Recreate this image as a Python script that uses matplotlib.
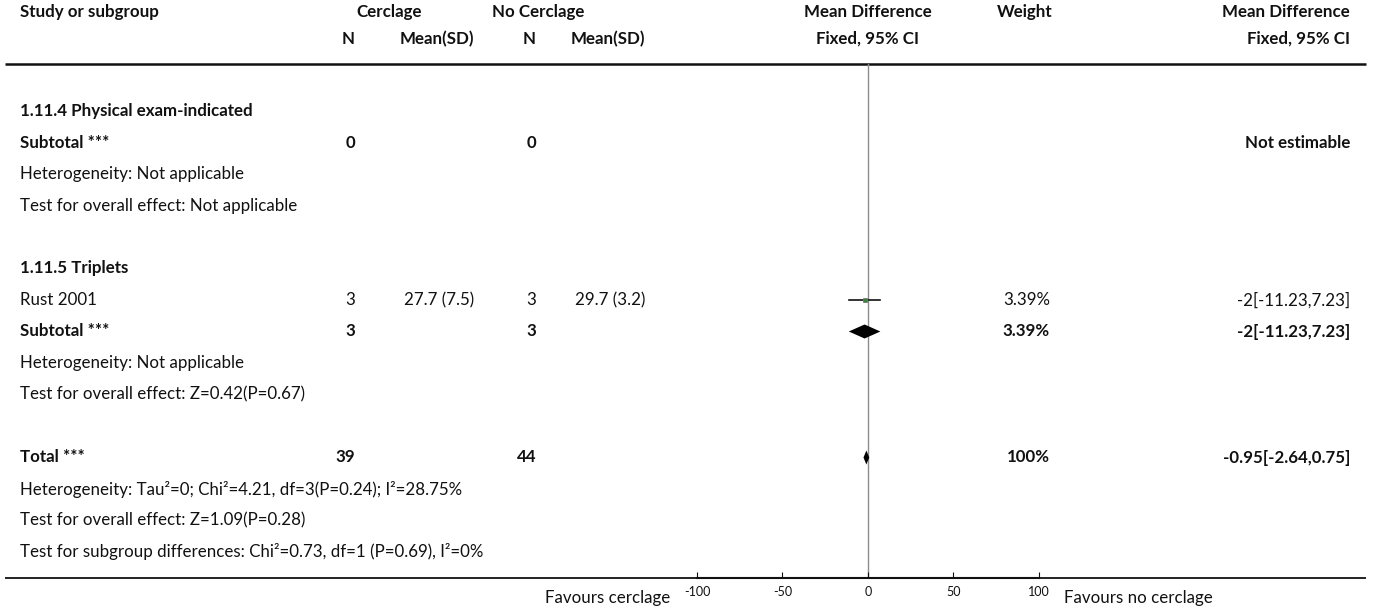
import matplotlib
matplotlib.use("Agg")
import matplotlib.pyplot as plt

# ---------------- data ----------------
header_cols = ["Study or subgroup", "Cerclage", "No Cerclage", "Mean Difference", "Weight", "Mean Difference"]
sub_headers = ["N", "Mean(SD)", "N", "Mean(SD)", "Fixed, 95% CI", "Fixed, 95% CI"]

group1_title = "1.11.4 Physical exam-indicated"
group1_n = [0, 0]
group1_het = "Heterogeneity: Not applicable"
group1_test = "Test for overall effect: Not applicable"
group1_est = "Not estimable"

group2_title = "1.11.5 Triplets"
studies = ["Rust 2001"]
cer_n = [3]
cer_mean = [27.7]
cer_sd = [7.5]
nc_n = [3]
nc_mean = [29.7]
nc_sd = [3.2]
study_weight = ["3.39%"]
study_md = [-2]
study_lo = [-11.23]
study_hi = [7.23]

sub2_n = [3, 3]
sub2_weight = "3.39%"
sub2_md, sub2_lo, sub2_hi = -2, -11.23, 7.23
group2_het = "Heterogeneity: Not applicable"
group2_test = "Test for overall effect: Z=0.42(P=0.67)"

total_n = [39, 44]
total_weight = "100%"
total_md, total_lo, total_hi = -0.95, -2.64, 0.75
total_het = "Heterogeneity: Tau\u00b2=0; Chi\u00b2=4.21, df=3(P=0.24); I\u00b2=28.75%"
total_test = "Test for overall effect: Z=1.09(P=0.28)"
subgroup_test = "Test for subgroup differences: Chi\u00b2=0.73, df=1 (P=0.69), I\u00b2=0%"

xticks = [-100, -50, 0, 50, 100]
fav_left = "Favours cerclage"
fav_right = "Favours no cerclage"

# ---------------- layout ----------------
W, H = 1375, 613
FONT = "Lato"
FS = 12.2
plt.rcParams["font.family"] = [FONT, "DejaVu Sans"]

fig = plt.figure(figsize=(W / 100, H / 100), dpi=100)
ax = fig.add_axes([0, 0, 1, 1])
ax.set_xlim(0, W)
ax.set_ylim(H, 0)
ax.axis("off")

X_STUDY = 20
X_CN = 355
X_CM = 474
X_NN = 536
X_NM = 645
X_PLOT = 868
X_W = 1050
X_EST = 1350

Y_H1, Y_H2 = 12, 39
Y_TOPLINE = 64
Y_BOTLINE = 578
Y0, PITCH = 111, 31.5

def ry(i):
    return Y0 + i * PITCH

def t(x, y, s, ha="left", bold=False, size=FS):
    ax.text(x, y, s, ha=ha, va="center", fontsize=size,
            fontweight="bold" if bold else "normal", color="#111111")

# headers
t(X_STUDY, Y_H1, header_cols[0], bold=True)
t(389, Y_H1, header_cols[1], ha="center", bold=True)
t(538, Y_H1, header_cols[2], ha="center", bold=True)
t(X_PLOT, Y_H1, header_cols[3], ha="center", bold=True)
t(1025, Y_H1, header_cols[4], ha="center", bold=True)
t(X_EST, Y_H1, header_cols[5], ha="right", bold=True)
t(X_CN, Y_H2, sub_headers[0], ha="right", bold=True)
t(X_CM, Y_H2, sub_headers[1], ha="right", bold=True)
t(X_NN, Y_H2, sub_headers[2], ha="right", bold=True)
t(X_NM, Y_H2, sub_headers[3], ha="right", bold=True)
t(X_PLOT, Y_H2, sub_headers[4], ha="center", bold=True)
t(X_EST, Y_H2, sub_headers[5], ha="right", bold=True)

ax.plot([5, 1366], [Y_TOPLINE, Y_TOPLINE], color="#111111", lw=1.8, solid_capstyle="butt")
ax.plot([5, 1366], [Y_BOTLINE, Y_BOTLINE], color="#111111", lw=1.3, solid_capstyle="butt")

# group 1
t(X_STUDY, ry(0), group1_title, bold=True)
t(X_STUDY, ry(1), "Subtotal ***", bold=True)
t(X_CN, ry(1), str(group1_n[0]), ha="right", bold=True)
t(X_NN, ry(1), str(group1_n[1]), ha="right", bold=True)
t(X_EST, ry(1), group1_est, ha="right", bold=True)
t(X_STUDY, ry(2), group1_het)
t(X_STUDY, ry(3), group1_test)

# group 2
t(X_STUDY, ry(5), group2_title, bold=True)
for k, name in enumerate(studies):
    y = ry(6 + k)
    t(X_STUDY, y, name)
    t(X_CN, y, str(cer_n[k]), ha="right")
    t(X_CM, y, f"{cer_mean[k]} ({cer_sd[k]})", ha="right")
    t(X_NN, y, str(nc_n[k]), ha="right")
    t(X_NM, y, f"{nc_mean[k]} ({nc_sd[k]})", ha="right")
    t(X_W, y, study_weight[k], ha="right")
    t(X_EST, y, f"{study_md[k]:g}[{study_lo[k]:g},{study_hi[k]:g}]", ha="right")
t(X_STUDY, ry(7), "Subtotal ***", bold=True)
t(X_CN, ry(7), str(sub2_n[0]), ha="right", bold=True)
t(X_NN, ry(7), str(sub2_n[1]), ha="right", bold=True)
t(X_W, ry(7), sub2_weight, ha="right", bold=True)
t(X_EST, ry(7), f"{sub2_md:g}[{sub2_lo:g},{sub2_hi:g}]", ha="right", bold=True)
t(X_STUDY, ry(8), group2_het)
t(X_STUDY, ry(9), group2_test)

# total
t(X_STUDY, ry(11), "Total ***", bold=True)
t(X_CN, ry(11), str(total_n[0]), ha="right", bold=True)
t(X_NN, ry(11), str(total_n[1]), ha="right", bold=True)
t(X_W, ry(11), total_weight, ha="right", bold=True)
t(X_EST, ry(11), f"{total_md:g}[{total_lo:g},{total_hi:g}]", ha="right", bold=True)
t(X_STUDY, ry(12), total_het)
t(X_STUDY, ry(13), total_test)
t(X_STUDY, ry(14), subgroup_test)

# ---------------- forest axes ----------------
PX_L, PX_R = 697, 1039
fx = fig.add_axes([PX_L / W, (H - Y_BOTLINE) / H, (PX_R - PX_L) / W, (Y_BOTLINE - Y_TOPLINE) / H])
fx.set_xlim(xticks[0], xticks[-1])
fx.set_ylim(Y_BOTLINE, Y_TOPLINE)
fx.patch.set_alpha(0)
for s in ["top", "left", "right"]:
    fx.spines[s].set_visible(False)
fx.spines["bottom"].set_linewidth(1.5)
fx.spines["bottom"].set_color("#111111")
fx.set_yticks([])
fx.set_xticks(xticks)
fx.set_xticklabels([str(v) for v in xticks])
fx.tick_params(axis="x", direction="in", length=4, width=0.8, pad=6, labelsize=9, colors="#111111")
fx.axvline(0, color="#8c8c8c", lw=1.0, zorder=1)

for k in range(len(studies)):
    y = ry(6 + k)
    fx.plot([study_lo[k], study_hi[k]], [y, y], color="#111111", lw=1.2, zorder=2)
    fx.plot([study_md[k]], [y], marker="s", ms=3, color="#2e8b2e", mec="#777777", mew=0.6, zorder=3)

def diamond(md, lo, hi, y, h=7):
    fx.fill([lo, md, hi, md], [y, y - h, y, y + h], color="#000000", zorder=3, lw=0)

diamond(sub2_md, sub2_lo, sub2_hi, ry(7))
diamond(total_md, total_lo, total_hi, ry(11))

ax.text(670, 598, fav_left, ha="right", va="center", fontsize=FS, color="#111111")
ax.text(1064, 598, fav_right, ha="left", va="center", fontsize=FS, color="#111111")

fig.savefig("out.png", dpi=100)
